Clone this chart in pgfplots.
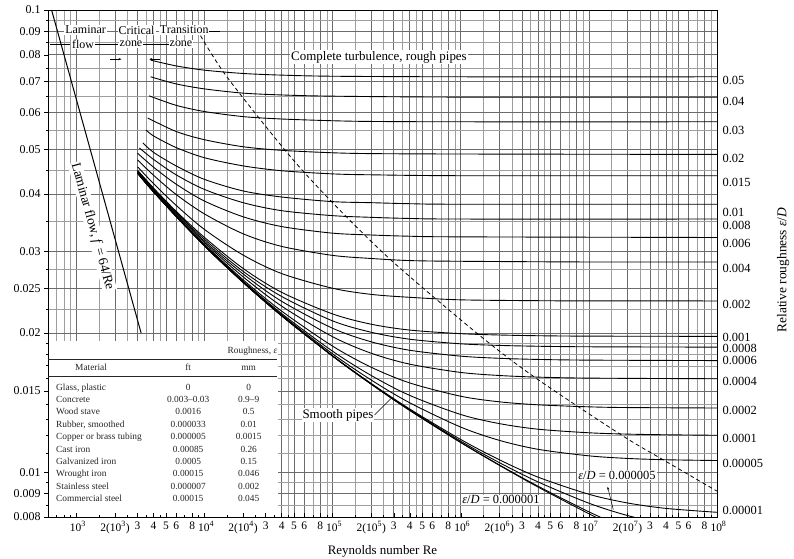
\documentclass[border=0pt]{standalone}
\usepackage{fontspec}
\setmainfont{Liberation Serif}
\usepackage{array}
\usepackage{pgfplots}
\pgfplotsset{compat=1.18}
\usetikzlibrary{arrows.meta}
\pgfdeclarelayer{tablebg}
\pgfplotsset{
  layers/moodylayers/.define layer set={axis background,axis grid,tablebg,axis ticks,axis lines,axis tick labels,pre main,main,axis descriptions,axis foreground}{
    grid style={/pgfplots/on layer=axis grid},
    tick style={/pgfplots/on layer=axis ticks},
    axis line style={/pgfplots/on layer=axis lines},
    label style={/pgfplots/on layer=axis descriptions},
    ticklabel style={/pgfplots/on layer=axis tick labels},
  },
  set layers=moodylayers,
}
\newcommand{\tl}{\fontsize{12}{14}\selectfont}
\newcommand{\sr}[1]{\hspace{3bp}10\textsuperscript{#1}}
\newcommand{\sq}[1]{2(10\textsuperscript{#1})}
\begin{document}
\begin{tikzpicture}
\begin{axis}[
  at={(0,0)}, anchor=south west,
  scale only axis, width=669bp, height=507bp,
  xmode=log, ymode=log,
  xmin=600, xmax=1e8, ymin=0.008, ymax=0.1,
  xtick={1000,2000,3000,4000,5000,6000,8000,10000,20000,30000,40000,50000,60000,80000,1e5,2e5,3e5,4e5,5e5,6e5,8e5,1e6,2e6,3e6,4e6,5e6,6e6,8e6,1e7,2e7,3e7,4e7,5e7,6e7,8e7,1e8},
  xticklabels={\sr{3},\sq{3},3,4,5,6,8,\sr{4},\sq{4},3,4,5,6,8,\sr{5},\sq{5},3,4,5,6,8,\sr{6},\sq{6},3,4,5,6,8,\sr{7},\sq{7},3,4,5,6,8,\sr{8}},
  minor xtick={700,800,900,1500,2500,3500,4500,7000,9000,15000,25000,35000,45000,70000,90000,1.5e5,2.5e5,3.5e5,4.5e5,7e5,9e5,1.5e6,2.5e6,3.5e6,4.5e6,7e6,9e6,1.5e7,2.5e7,3.5e7,4.5e7,7e7,9e7},
  ytick={0.008,0.009,0.01,0.015,0.02,0.025,0.03,0.04,0.05,0.06,0.07,0.08,0.09,0.1},
  yticklabels={0.008,0.009,0.01,0.015,0.02,0.025,0.03,0.04,0.05,0.06,0.07,0.08,0.09,0.1},
  minor ytick={0.0085,0.0095,0.011,0.012,0.013,0.014,0.016,0.017,0.018,0.019,0.0225,0.0275,0.035,0.045,0.055,0.065,0.075,0.085,0.095},
  grid=both,
  major grid style={black!58, line width=0.6pt},
  minor grid style={black!38, line width=0.4pt},
  xtick pos=left, ytick pos=left,
  xtick align=inside, ytick align=outside,
  major tick length=4bp, minor tick length=2bp,
  tick style={black, line width=0.5pt},
  axis line style={black, line width=0.8pt},
  yticklabel style={font=\tl},
  xticklabel style={font=\fontsize{11.5}{13}\selectfont, yshift=-1bp},
  every axis x label/.style={at={(axis description cs:0.5,-0.067)}, anchor=center},
  xlabel={Reynolds number Re},
  label style={font=\fontsize{13}{15}\selectfont},
  moody/.style={black, line width=0.9pt, smooth, mark=none},
]
\begin{pgfonlayer}{tablebg}
\fill[white] ([xshift=0.5bp,yshift=0.5bp]axis cs:600,0.008) rectangle (axis cs:37500,0.0192);
\end{pgfonlayer}
% laminar
\addplot[black, line width=1pt, mark=none] coordinates {(640,0.1) (3200,0.02)};
% complete turbulence boundary
\addplot[black, line width=0.8pt, dash pattern=on 4bp off 3bp, smooth, mark=none] coordinates {
(9300,0.0880)(14937,0.0717)(45296,0.0487)(102622,0.0380)(296314,0.0285)(1425700,0.0197)(3961600,0.0159)(18240000,0.0120)(38860000,0.0106)(100000000,0.0091)};
% relative roughness curves
\addplot[moody] coordinates {(3800,0.0779)(6000,0.0757)(10000,0.0741)(20000,0.0729)(40000,0.0723)(100000,0.0719)(1000000,0.0717)(100000000,0.0717)};
\addplot[moody] coordinates {(3800,0.0717)(6000,0.0692)(10000,0.0675)(20000,0.0661)(40000,0.0655)(100000,0.0651)(1000000,0.0648)(100000000,0.0648)};
\addplot[moody] coordinates {(3700,0.0652)(6000,0.0622)(10000,0.0603)(20000,0.0588)(40000,0.0581)(100000,0.0576)(200000,0.0574)(1000000,0.0573)(100000000,0.0573)};
\addplot[moody] coordinates {(3600,0.0584)(6000,0.0546)(10000,0.0524)(20000,0.0506)(40000,0.0497)(100000,0.0491)(200000,0.0489)(1000000,0.0488)(100000000,0.0487)};
\addplot[moody] coordinates {(3500,0.0550)(4000,0.0534)(6000,0.0504)(10000,0.0479)(20000,0.0460)(40000,0.0449)(100000,0.0442)(200000,0.0440)(1000000,0.0438)(100000000,0.0438)};
\addplot[moody] coordinates {(3300,0.0516)(4000,0.0492)(6000,0.0460)(10000,0.0430)(20000,0.0406)(40000,0.0394)(100000,0.0385)(200000,0.0383)(400000,0.0381)(1000000,0.0380)(100000000,0.0380)};
\addplot[moody] coordinates {(3100,0.0503)(4000,0.0475)(6000,0.0440)(10000,0.0409)(20000,0.0383)(40000,0.0368)(100000,0.0359)(200000,0.0356)(400000,0.0354)(1000000,0.0353)(100000000,0.0353)};
\addplot[moody] coordinates {(3000,0.0490)(4000,0.0457)(6000,0.0420)(10000,0.0386)(20000,0.0357)(40000,0.0340)(100000,0.0329)(200000,0.0326)(400000,0.0324)(1000000,0.0323)(100000000,0.0322)};
\addplot[moody] coordinates {(3000,0.0474)(4000,0.0439)(6000,0.0399)(10000,0.0362)(20000,0.0328)(40000,0.0308)(100000,0.02945)(200000,0.0290)(400000,0.0287)(1000000,0.0286)(10000000,0.0285)(100000000,0.0285)};
\addplot[moody] coordinates {(3000,0.0458)(4000,0.0421)(6000,0.0378)(10000,0.0335)(20000,0.0295)(40000,0.0269)(100000,0.0250)(200000,0.02425)(400000,0.0239)(1000000,0.0236)(4000000,0.0235)(10000000,0.02348)(100000000,0.02347)};
\addplot[moody] coordinates {(3000,0.0450)(4000,0.0412)(6000,0.0367)(10000,0.0322)(20000,0.0276)(40000,0.0245)(100000,0.0220)(200000,0.0209)(400000,0.0203)(1000000,0.01994)(2000000,0.01981)(4000000,0.01974)(10000000,0.01970)(100000000,0.01968)};
\addplot[moody] coordinates {(3000,0.0449)(4000,0.0410)(6000,0.0365)(10000,0.0319)(20000,0.0272)(40000,0.0240)(100000,0.02125)(200000,0.02008)(400000,0.01940)(1000000,0.01896)(2000000,0.01881)(4000000,0.01873)(10000000,0.01868)(100000000,0.01865)};
\addplot[moody] coordinates {(3000,0.0447)(4000,0.0409)(6000,0.0363)(10000,0.0316)(20000,0.02685)(40000,0.02343)(100000,0.02048)(200000,0.01915)(400000,0.01836)(1000000,0.01783)(2000000,0.01764)(4000000,0.01754)(10000000,0.01748)(100000000,0.01744)};
\addplot[moody] coordinates {(3000,0.0446)(4000,0.0407)(6000,0.0361)(10000,0.03137)(20000,0.02647)(40000,0.02287)(100000,0.01964)(200000,0.01809)(400000,0.01713)(1000000,0.01644)(2000000,0.01619)(4000000,0.01606)(10000000,0.01598)(100000000,0.01593)};
\addplot[moody] coordinates {(3000,0.04446)(4000,0.0405)(6000,0.03589)(10000,0.03111)(20000,0.02609)(40000,0.02231)(100000,0.01874)(200000,0.01687)(400000,0.01560)(1000000,0.01460)(2000000,0.01420)(4000000,0.01399)(10000000,0.01385)(20000000,0.01380)(100000000,0.01377)};
\addplot[moody] coordinates {(3000,0.0444)(4000,0.04049)(6000,0.0358)(10000,0.03099)(20000,0.02591)(40000,0.02204)(100000,0.01827)(200000,0.01619)(400000,0.01466)(1000000,0.01333)(2000000,0.01274)(4000000,0.01239)(10000000,0.01217)(20000000,0.01209)(40000000,0.01205)(100000000,0.01202)};
\addplot[moody] coordinates {(3000,0.0444)(4000,0.04045)(6000,0.03576)(10000,0.03093)(20000,0.02582)(40000,0.02191)(100000,0.01803)(200000,0.01583)(400000,0.01413)(1000000,0.01252)(2000000,0.01172)(4000000,0.01121)(10000000,0.01085)(20000000,0.01071)(40000000,0.01064)(100000000,0.01060)};
\addplot[moody] coordinates {(3000,0.0444)(4000,0.04043)(6000,0.03573)(10000,0.03089)(20000,0.02576)(40000,0.02181)(100000,0.01786)(200000,0.01556)(400000,0.01370)(1000000,0.01177)(2000000,0.01064)(4000000,0.00976)(10000000,0.00896)(20000000,0.00858)(40000000,0.00835)(100000000,0.00819)};
\addplot[moody] coordinates {(3000,0.0444)(4000,0.04043)(10000,0.03089)(20000,0.02576)(40000,0.02180)(100000,0.01784)(200000,0.01553)(400000,0.01365)(1000000,0.01167)(2000000,0.01049)(4000000,0.00953)(10000000,0.00857)(20000000,0.00806)(40000000,0.00773)(100000000,0.00747)};
\addplot[moody] coordinates {(3000,0.0444)(4000,0.04042)(10000,0.03089)(20000,0.02575)(40000,0.02180)(100000,0.01783)(200000,0.01551)(400000,0.01361)(1000000,0.01160)(2000000,0.01037)(4000000,0.00933)(10000000,0.00821)(20000000,0.00753)(40000000,0.00698)};
\addplot[moody] coordinates {(3000,0.04434)(4000,0.04042)(10000,0.03089)(20000,0.02575)(40000,0.02179)(100000,0.01783)(200000,0.01550)(400000,0.01360)(1000000,0.01159)(2000000,0.01035)(4000000,0.00929)(10000000,0.00813)(20000000,0.00739)};
% text
\node[font=\fontsize{12}{14}\selectfont, fill=white, inner sep=1pt] at (axis cs:1180,0.0905) {Laminar};
\node[font=\fontsize{12}{14}\selectfont, fill=white, inner sep=1pt] at (axis cs:2950,0.0905) {Critical};
\node[font=\fontsize{12}{14}\selectfont, fill=white, inner sep=1pt] at (axis cs:6950,0.0905) {Transition};
\draw[black, line width=0.5pt] (axis cs:10800,0.0901) -- (axis cs:13200,0.0901);
\draw[black, line width=0.5pt] (axis cs:622,0.0844) -- (axis cs:891,0.0844);
\draw[black, line width=0.5pt] (axis cs:1396,0.0844) -- (axis cs:2111,0.0844);
\draw[black, line width=0.5pt] (axis cs:3308,0.0844) -- (axis cs:5376,0.0844);
\node[font=\fontsize{12}{14}\selectfont, fill=white, inner sep=1pt] at (axis cs:1125,0.0844) {flow};
\node[font=\fontsize{12}{14}\selectfont, fill=white, inner sep=1pt] at (axis cs:2667,0.0844) {zone};
\node[font=\fontsize{12}{14}\selectfont, fill=white, inner sep=1pt] at (axis cs:6550,0.0844) {zone};
\draw[black, line width=0.5pt, -{Stealth[length=3bp]}] (axis cs:1828,0.0783) -- (axis cs:2250,0.0783);
\draw[black, line width=0.5pt, -{Stealth[length=3bp]}] (axis cs:4500,0.0783) -- (axis cs:3700,0.0783);
\node[font=\fontsize{13.5}{15}\selectfont, fill=white, inner sep=1pt, rotate=-74.5] at (axis cs:1330,0.0340) {Laminar flow, \textit{f} = 64/Re};
\node[font=\fontsize{13}{15}\selectfont, fill=white, inner sep=1.5pt] at (axis cs:2.30e5,0.0791) {Complete turbulence, rough pipes};
\node[font=\fontsize{13}{15}\selectfont, fill=white, inner sep=1pt] (sp) at (axis cs:1.10e5,0.0133) {Smooth pipes};
\draw[black, line width=0.5pt] (sp.east) -- (axis cs:2.9e5,0.0145);
\node[font=\fontsize{12.5}{14}\selectfont, fill=white, inner sep=1pt] at (axis cs:1.657e7,0.00986) {\textit{ε}/\textit{D} = 0.000005};
\draw[black, line width=0.5pt, -{Stealth[length=3bp]}] (axis cs:1.55e7,0.0083) -- (axis cs:1.40e7,0.0093);
\node[font=\fontsize{12.5}{14}\selectfont, fill=white, inner sep=1pt] at (axis cs:2.06e6,0.00871) {\textit{ε}/\textit{D} = 0.000001};
% table
\node[anchor=north west, inner sep=0pt, text=black!85, font=\fontsize{9.4}{12.4}\selectfont] at (axis cs:600,0.0192) {%
\begin{tabular}{@{\hspace{8bp}}p{100bp}@{}>{\centering\arraybackslash}p{64bp}@{}>{\centering\arraybackslash}p{57bp}@{}}
\rule[-6bp]{0pt}{18bp}& \multicolumn{2}{r@{}}{Roughness, \textit{ε}\hspace{2bp}}\\ \hline
\rule[-5bp]{0pt}{16bp}\hspace{19bp}Material & ft & mm\\ \hline
\rule{0pt}{14bp}Glass, plastic & 0 & 0\\
Concrete & 0.003--0.03 & 0.9--9\\
Wood stave & 0.0016 & 0.5\\
Rubber, smoothed & 0.000033 & 0.01\\
Copper or brass tubing & 0.000005 & 0.0015\\
Cast iron & 0.00085 & 0.26\\
Galvanized iron & 0.0005 & 0.15\\
Wrought iron & 0.00015 & 0.046\\
Stainless steel & 0.000007 & 0.002\\
Commercial steel & 0.00015 & 0.045\\
\end{tabular}};
\end{axis}
\begin{axis}[
  at={(0,0)}, anchor=south west,
  scale only axis, width=669bp, height=507bp,
  xmode=log, ymode=log,
  xmin=600, xmax=1e8, ymin=0.008, ymax=0.1,
  axis x line=none, axis y line*=right,
  axis line style={draw=none},
  ytick={0.07056,0.06355,0.05499,0.04784,0.04245,0.03656,0.03425,0.03131,0.02765,0.02312,0.01961,0.01856,0.01749,0.01575,0.01363,0.01186,0.01047,0.00828},
  yticklabels={0.05,0.04,0.03,0.02,0.015,0.01,0.008,0.006,0.004,0.002,0.001,0.0008,0.0006,0.0004,0.0002,0.0001,0.00005,0.00001},
  minor ytick={},
  major tick length=0pt,
  yticklabel style={font=\fontsize{12.5}{14}\selectfont, anchor=west, xshift=2bp},
  every axis y label/.style={at={(axis description cs:1.099,0.487)}, anchor=center, rotate=90},
  ylabel={Relative roughness \textit{ε}/\textit{D}},
  label style={font=\fontsize{13.5}{15}\selectfont},
]
\addplot[draw=none, mark=none] coordinates {(1e4,0.05)};
\end{axis}
\pgfresetboundingbox
\path[use as bounding box] (-48bp,-42bp) rectangle (746bp,517bp);
\end{tikzpicture}
\end{document}
